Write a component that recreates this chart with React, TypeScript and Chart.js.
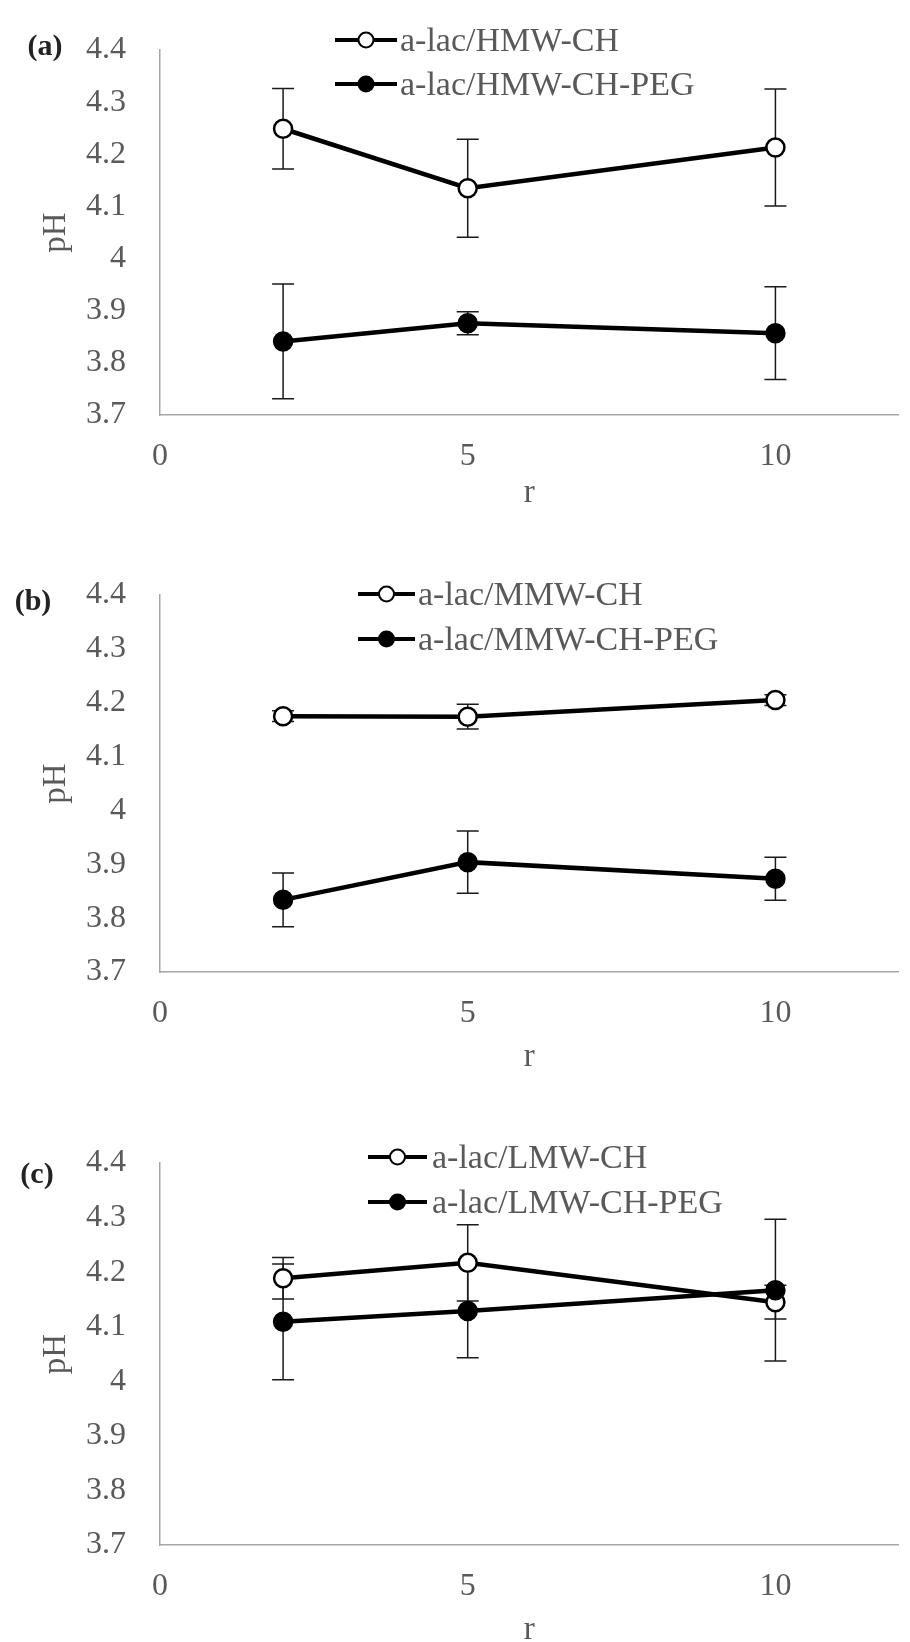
import React, { useEffect, useRef } from 'react';
import { Chart, registerables } from 'chart.js';

Chart.register(...registerables);

// ---------- data ----------
const xValues = [2, 5, 10];
const xTickValues = [0, 5, 10];
const xTickLabels = ['0', '5', '10'];
const yTickValues = [3.7, 3.8, 3.9, 4.0, 4.1, 4.2, 4.3, 4.4];
const yTickLabels = ['3.7', '3.8', '3.9', '4', '4.1', '4.2', '4.3', '4.4'];

const panelLabels = ['(a)', '(b)', '(c)'];
const openLabels = ['a-lac/HMW-CH', 'a-lac/MMW-CH', 'a-lac/LMW-CH'];
const filledLabels = ['a-lac/HMW-CH-PEG', 'a-lac/MMW-CH-PEG', 'a-lac/LMW-CH-PEG'];

const hmwCh = [4.249, 4.135, 4.213];
const hmwChErr = [0.077, 0.094, 0.112];
const hmwPeg = [3.841, 3.876, 3.857];
const hmwPegErr = [0.11, 0.022, 0.089];

const mmwCh = [4.175, 4.174, 4.205];
const mmwChErr = [0.01, 0.023, 0.01];
const mmwPeg = [3.834, 3.904, 3.873];
const mmwPegErr = [0.05, 0.058, 0.04];

const lmwCh = [4.189, 4.217, 4.145];
const lmwChErr = [0.038, 0.07, 0.031];
const lmwPeg = [4.109, 4.129, 4.167];
const lmwPegErr = [0.106, 0.086, 0.13];

const openSeries = [hmwCh, mmwCh, lmwCh];
const openErrors = [hmwChErr, mmwChErr, lmwChErr];
const filledSeries = [hmwPeg, mmwPeg, lmwPeg];
const filledErrors = [hmwPegErr, mmwPegErr, lmwPegErr];

// ---------- layout / style ----------
const FONT = "'Liberation Serif', 'Times New Roman', serif";
const TEXT_GRAY = '#595959';
const AXIS_GRAY = '#a6a6a6';

const panelLayouts = [
  { top: 0, height: 545, chartTop: 29, chartBottom: 415, rPad: 35.5,
    legend: { x0: 335, x1: 397, textX: 400, rowY: [40, 84] }, label: { x: 45, y: 45 } },
  { top: 545, height: 555, chartTop: 48, chartBottom: 427, rPad: 26.5,
    legend: { x0: 358, x1: 415, textX: 418, rowY: [49, 94] }, label: { x: 33, y: 600 } },
  { top: 1100, height: 560, chartTop: 63, chartBottom: 445, rPad: 13.5,
    legend: { x0: 368, x1: 427, textX: 432, rowY: [57, 102] }, label: { x: 37, y: 1173 } },
];

const errorBarPlugin = {
  id: 'errorBars',
  beforeDatasetsDraw(chart: any) {
    const { ctx } = chart;
    const xs = chart.scales.x;
    const ys = chart.scales.y;
    ctx.save();
    ctx.strokeStyle = '#1a1a1a';
    ctx.lineWidth = 1.5;
    chart.data.datasets.forEach((ds: any) => {
      const errs = ds.errors;
      if (!errs) return;
      ds.data.forEach((pt: any, i: number) => {
        const px = xs.getPixelForValue(pt.x);
        const yTop = ys.getPixelForValue(pt.y + errs[i]);
        const yBot = ys.getPixelForValue(pt.y - errs[i]);
        ctx.beginPath();
        ctx.moveTo(px, yTop);
        ctx.lineTo(px, yBot);
        ctx.moveTo(px - 11, yTop);
        ctx.lineTo(px + 11, yTop);
        ctx.moveTo(px - 11, yBot);
        ctx.lineTo(px + 11, yBot);
        ctx.stroke();
      });
    });
    ctx.restore();
  },
};

const lineLegendPlugin = {
  id: 'lineLegend',
  afterDraw(chart: any, _args: any, opts: any) {
    const { ctx } = chart;
    ctx.save();
    chart.data.datasets.forEach((ds: any, i: number) => {
      const y = opts.rowY[i];
      ctx.strokeStyle = '#000';
      ctx.lineWidth = 4;
      ctx.beginPath();
      ctx.moveTo(opts.x0, y);
      ctx.lineTo(opts.x1, y);
      ctx.stroke();
      ctx.beginPath();
      ctx.arc((opts.x0 + opts.x1) / 2, y, 7.5, 0, Math.PI * 2);
      ctx.fillStyle = ds.pointBackgroundColor;
      ctx.fill();
      ctx.lineWidth = 2;
      ctx.stroke();
      ctx.fillStyle = TEXT_GRAY;
      ctx.font = `34px ${FONT}`;
      ctx.textBaseline = 'middle';
      ctx.textAlign = 'left';
      ctx.fillText(ds.label, opts.textX, y + 2);
    });
    ctx.restore();
  },
};

function Panel({ index }: { index: number }) {
  const ref = useRef<HTMLCanvasElement | null>(null);
  const L = panelLayouts[index];

  useEffect(() => {
    if (!ref.current) return;
    const toPoints = (vals: number[]) => xValues.map((x, i) => ({ x, y: vals[i] }));
    const chart = new Chart(ref.current, {
      type: 'line',
      data: {
        datasets: [
          {
            label: openLabels[index],
            data: toPoints(openSeries[index]),
            errors: openErrors[index],
            borderColor: '#000',
            borderWidth: 4.5,
            pointRadius: 9,
            pointBorderWidth: 2.5,
            pointBackgroundColor: '#ffffff',
            pointBorderColor: '#000',
            tension: 0,
            order: 1,
          } as any,
          {
            label: filledLabels[index],
            data: toPoints(filledSeries[index]),
            errors: filledErrors[index],
            borderColor: '#000',
            borderWidth: 4.5,
            pointRadius: 9,
            pointBorderWidth: 2.5,
            pointBackgroundColor: '#000000',
            pointBorderColor: '#000',
            tension: 0,
            order: 0,
          } as any,
        ],
      },
      options: {
        responsive: false,
        animation: false,
        events: [],
        layout: { padding: { top: L.chartTop, right: 9, bottom: 0, left: 0 } },
        plugins: {
          legend: { display: false },
          tooltip: { enabled: false },
          lineLegend: L.legend,
        } as any,
        scales: {
          x: {
            type: 'linear',
            min: 0,
            max: 12,
            grid: { display: false, drawTicks: false },
            border: { display: true, color: AXIS_GRAY, width: 1.5 },
            afterBuildTicks: (scale: any) => {
              scale.ticks = xTickValues.map((v) => ({ value: v }));
            },
            afterFit: (scale: any) => {
              scale.height = L.height - L.chartBottom;
            },
            ticks: {
              padding: 26,
              color: TEXT_GRAY,
              font: { family: FONT, size: 32, lineHeight: 1 },
              maxRotation: 0,
              callback: (v: any) => {
                const i = xTickValues.indexOf(Number(v));
                return i >= 0 ? xTickLabels[i] : '';
              },
            },
            title: {
              display: true,
              text: 'r',
              color: TEXT_GRAY,
              font: { family: FONT, size: 33, lineHeight: 1 },
              padding: { top: 0, bottom: L.rPad },
            },
          },
          y: {
            type: 'linear',
            min: 3.7,
            max: 4.4,
            grid: { display: false, drawTicks: false },
            border: { display: true, color: AXIS_GRAY, width: 1.5 },
            afterBuildTicks: (scale: any) => {
              scale.ticks = yTickValues.map((v) => ({ value: v }));
            },
            afterFit: (scale: any) => {
              scale.width = 160;
            },
            ticks: {
              padding: 34,
              color: TEXT_GRAY,
              font: { family: FONT, size: 32, lineHeight: 1 },
              callback: (v: any) => {
                const i = yTickValues.findIndex((t) => Math.abs(t - Number(v)) < 1e-6);
                return i >= 0 ? yTickLabels[i] : '';
              },
            },
            title: {
              display: true,
              text: 'pH',
              color: TEXT_GRAY,
              font: { family: FONT, size: 33, lineHeight: 1 },
              padding: { top: 39.5, bottom: 0 },
            },
          },
        },
      } as any,
      plugins: [errorBarPlugin, lineLegendPlugin],
    });
    return () => chart.destroy();
  }, [index]);

  return (
    <>
      <canvas
        ref={ref}
        width={910}
        height={L.height}
        style={{ position: 'absolute', left: 0, top: L.top, width: 910, height: L.height }}
      />
      <div
        style={{
          position: 'absolute',
          left: L.label.x,
          top: L.label.y,
          transform: 'translate(-50%, -50%)',
          fontFamily: FONT,
          fontWeight: 'bold',
          fontSize: 30,
          lineHeight: 1,
          color: '#222',
          whiteSpace: 'nowrap',
        }}
      >
        {panelLabels[index]}
      </div>
    </>
  );
}

export default function App() {
  return (
    <div
      style={{
        position: 'absolute',
        left: 0,
        top: 0,
        width: 910,
        height: 1642,
        overflow: 'hidden',
        background: '#ffffff',
      }}
    >
      <Panel index={0} />
      <Panel index={1} />
      <Panel index={2} />
    </div>
  );
}
